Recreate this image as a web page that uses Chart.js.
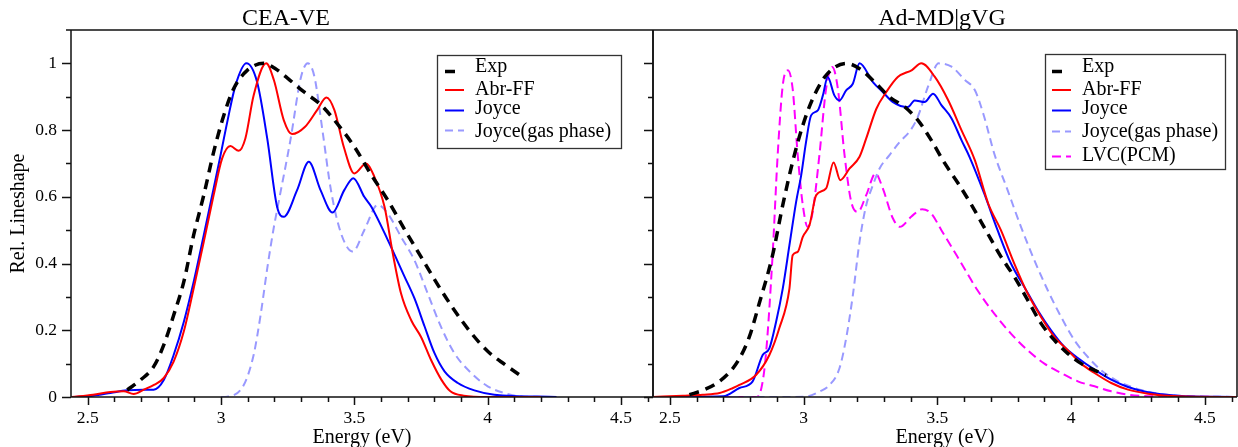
<!DOCTYPE html>
<html><head><meta charset="utf-8">
<script src="https://cdn.jsdelivr.net/npm/chart.js@4/dist/chart.umd.min.js"></script>
<style>
html,body{margin:0;padding:0;background:#fff;}
#wrap{position:relative;width:1238px;height:447px;overflow:hidden;}
canvas{position:absolute;left:0;top:0;}
</style></head><body>
<div id="wrap"><canvas id="c1" width="1238" height="447"></canvas><canvas id="c2" width="1238" height="447"></canvas></div>
<script>
// ---------- tick labels ----------
const xTickValues = [2.5, 3, 3.5, 4, 4.5];
const yTickValues = [0, 0.2, 0.4, 0.6, 0.8, 1];
const panelTitles = ["CEA-VE", "Ad-MD|gVG"];
const legendLeft = ["Exp", "Abr-FF", "Joyce", "Joyce(gas phase)"];
const legendRight = ["Exp", "Abr-FF", "Joyce", "Joyce(gas phase)", "LVC(PCM)"];

// ---------- left panel (CEA-VE) ----------
const L_expE = [2.648, 2.698, 2.747, 2.785, 2.822, 2.86, 2.897, 2.935, 2.972, 3.01, 3.047, 3.098, 3.16, 3.204, 3.25, 3.31, 3.375, 3.44, 3.50, 3.56, 3.625, 3.69, 3.75, 3.81, 3.875, 3.94, 4.00, 4.065, 4.127];
const L_expV = [0.021, 0.051, 0.091, 0.156, 0.245, 0.345, 0.485, 0.605, 0.734, 0.844, 0.924, 0.979, 1.0, 0.984, 0.955, 0.915, 0.875, 0.815, 0.75, 0.67, 0.59, 0.50, 0.42, 0.34, 0.26, 0.19, 0.137, 0.097, 0.062];

const L_abrE = [2.44, 2.52, 2.585, 2.635, 2.672, 2.71, 2.75, 2.785, 2.822, 2.86, 2.897, 2.935, 2.972, 3.004, 3.035, 3.066, 3.091, 3.122, 3.169, 3.198, 3.235, 3.266, 3.315, 3.36, 3.395, 3.425, 3.46, 3.50, 3.544, 3.575, 3.613, 3.644, 3.675, 3.713, 3.75, 3.788, 3.826, 3.86, 3.91, 4.0, 4.2];
const L_abrV = [0, 0.007, 0.015, 0.017, 0.009, 0.022, 0.037, 0.057, 0.106, 0.196, 0.325, 0.465, 0.605, 0.715, 0.752, 0.738, 0.775, 0.904, 1.0, 0.95, 0.83, 0.788, 0.81, 0.86, 0.898, 0.86, 0.75, 0.67, 0.70, 0.66, 0.57, 0.43, 0.31, 0.23, 0.18, 0.11, 0.052, 0.017, 0.004, 0, 0];

const L_joyE = [2.44, 2.52, 2.585, 2.647, 2.71, 2.747, 2.785, 2.822, 2.86, 2.897, 2.935, 2.972, 2.998, 3.023, 3.054, 3.095, 3.135, 3.173, 3.21, 3.235, 3.285, 3.329, 3.373, 3.418, 3.462, 3.496, 3.537, 3.563, 3.625, 3.688, 3.725, 3.763, 3.80, 3.838, 3.888, 3.95, 4.025, 4.258];
const L_joyV = [0, 0.004, 0.012, 0.02, 0.022, 0.022, 0.051, 0.126, 0.225, 0.345, 0.485, 0.625, 0.725, 0.824, 0.934, 1.0, 0.944, 0.775, 0.57, 0.54, 0.62, 0.705, 0.62, 0.553, 0.62, 0.656, 0.60, 0.571, 0.471, 0.361, 0.296, 0.212, 0.132, 0.077, 0.042, 0.02, 0.007, 0];

const L_gasE = [3.0, 3.023, 3.085, 3.122, 3.148, 3.173, 3.197, 3.216, 3.26, 3.30, 3.325, 3.35, 3.38, 3.412, 3.45, 3.494, 3.537, 3.588, 3.625, 3.675, 3.725, 3.775, 3.825, 3.876, 3.938, 4.0, 4.062, 4.125, 4.25];
const L_gasV = [0, 0.001, 0.036, 0.126, 0.245, 0.385, 0.505, 0.585, 0.77, 0.96, 1.0, 0.96, 0.80, 0.62, 0.49, 0.436, 0.50, 0.576, 0.55, 0.48, 0.41, 0.31, 0.21, 0.13, 0.072, 0.032, 0.012, 0.002, 0];

// ---------- right panel (Ad-MD|gVG) ----------
const R_expE = [2.573, 2.623, 2.673, 2.724, 2.76, 2.797, 2.834, 2.884, 2.922, 2.959, 2.997, 3.034, 3.084, 3.159, 3.209, 3.272, 3.321, 3.377, 3.427, 3.477, 3.528, 3.578, 3.628, 3.688, 3.738, 3.788, 3.838, 3.888, 3.938, 3.988, 4.038, 4.088, 4.13];
const R_expV = [0.007, 0.02, 0.04, 0.075, 0.115, 0.18, 0.28, 0.425, 0.575, 0.705, 0.814, 0.894, 0.964, 1.0, 0.984, 0.939, 0.899, 0.87, 0.83, 0.77, 0.70, 0.64, 0.575, 0.49, 0.42, 0.36, 0.29, 0.22, 0.17, 0.13, 0.10, 0.08, 0.065];

const R_abrE = [2.435, 2.548, 2.623, 2.686, 2.736, 2.76, 2.822, 2.872, 2.909, 2.947, 2.959, 2.978, 2.997, 3.022, 3.047, 3.084, 3.112, 3.137, 3.172, 3.209, 3.234, 3.272, 3.309, 3.352, 3.405, 3.44, 3.49, 3.54, 3.59, 3.64, 3.69, 3.7375, 3.7875, 3.8375, 3.8875, 3.9375, 3.9875, 4.0375, 4.0875, 4.15, 4.2125, 4.2875, 4.40, 4.62];
const R_abrV = [0, 0.004, 0.007, 0.012, 0.027, 0.036, 0.066, 0.126, 0.206, 0.325, 0.425, 0.435, 0.48, 0.515, 0.605, 0.625, 0.703, 0.65, 0.685, 0.72, 0.775, 0.864, 0.914, 0.959, 0.98, 1.0, 0.96, 0.89, 0.80, 0.71, 0.58, 0.50, 0.40, 0.31, 0.24, 0.18, 0.14, 0.10, 0.072, 0.042, 0.022, 0.01, 0.002, 0];

const R_joyE = [2.435, 2.70, 2.76, 2.809, 2.847, 2.872, 2.897, 2.922, 2.947, 2.972, 2.991, 3.009, 3.028, 3.053, 3.072, 3.09, 3.115, 3.134, 3.159, 3.184, 3.209, 3.259, 3.296, 3.334, 3.39, 3.415, 3.452, 3.484, 3.515, 3.553, 3.59, 3.62, 3.675, 3.725, 3.775, 3.825, 3.875, 3.925, 3.975, 4.025, 4.0875, 4.15, 4.2125, 4.2875, 4.40, 4.62];
const R_joyV = [0, 0.002, 0.027, 0.046, 0.126, 0.146, 0.225, 0.325, 0.455, 0.585, 0.665, 0.764, 0.844, 0.859, 0.904, 0.959, 0.904, 0.889, 0.919, 0.939, 1.0, 0.944, 0.914, 0.884, 0.869, 0.889, 0.884, 0.909, 0.875, 0.835, 0.77, 0.72, 0.61, 0.50, 0.40, 0.33, 0.26, 0.20, 0.15, 0.117, 0.082, 0.052, 0.03, 0.014, 0.004, 0];

const R_gasE = [2.435, 2.95, 3.009, 3.059, 3.097, 3.134, 3.159, 3.184, 3.209, 3.234, 3.259, 3.284, 3.321, 3.359, 3.40, 3.427, 3.465, 3.505, 3.553, 3.603, 3.64, 3.675, 3.7125, 3.7625, 3.8125, 3.8625, 3.9125, 3.9625, 4.0125, 4.0625, 4.1125, 4.175, 4.2375, 4.3125, 4.40, 4.62];
const R_gasV = [0, 0, 0.001, 0.016, 0.036, 0.086, 0.176, 0.305, 0.465, 0.575, 0.635, 0.685, 0.725, 0.764, 0.80, 0.84, 0.93, 1.0, 0.99, 0.95, 0.92, 0.84, 0.73, 0.62, 0.51, 0.41, 0.32, 0.24, 0.17, 0.12, 0.08, 0.047, 0.027, 0.012, 0.004, 0];

const R_lvcE = [2.435, 2.825, 2.843, 2.859, 2.884, 2.903, 2.922, 2.941, 2.959, 2.978, 2.997, 3.015, 3.034, 3.059, 3.084, 3.107, 3.128, 3.153, 3.178, 3.203, 3.234, 3.269, 3.296, 3.334, 3.36, 3.402, 3.443, 3.477, 3.515, 3.553, 3.59, 3.65, 3.7125, 3.775, 3.8375, 3.90, 3.9625, 4.025, 4.0875, 4.15, 4.2125, 4.3375, 4.62];
const R_lvcV = [0, 0, 0.03, 0.126, 0.425, 0.725, 0.934, 0.979, 0.924, 0.725, 0.575, 0.51, 0.555, 0.725, 0.924, 0.989, 0.924, 0.725, 0.585, 0.555, 0.605, 0.67, 0.625, 0.535, 0.51, 0.54, 0.563, 0.55, 0.50, 0.45, 0.40, 0.32, 0.25, 0.19, 0.14, 0.10, 0.072, 0.047, 0.032, 0.017, 0.007, 0.002, 0];

// ---------- rendering ----------
const SERIF = "'Liberation Serif', 'Times New Roman', serif";
Chart.defaults.font.family = SERIF;
Chart.defaults.color = '#000';
const X_MIN = 2.437, X_MAX = 4.62, Y_MIN = 0, Y_MAX = 1.1;

const STYLES = {
  "Exp": {color: '#000000', width: 3.5, dash: [10, 7]},
  "Abr-FF": {color: '#ff0000', width: 2, dash: []},
  "Joyce": {color: '#0000ff', width: 2, dash: []},
  "Joyce(gas phase)": {color: '#9999ff', width: 2, dash: [8, 5]},
  "LVC(PCM)": {color: '#ff00ff', width: 2, dash: [9, 5]}
};

function pairs(E, V) { return E.map((e, i) => ({x: e, y: V[i]})); }
function ds(label, E, V) {
  const s = STYLES[label];
  return {label, data: pairs(E, V), borderColor: s.color, borderWidth: s.width, borderDash: s.dash,
    pointRadius: 0, fill: false, cubicInterpolationMode: 'monotone', borderCapStyle: 'butt'};
}

const framePlugin = {
  id: 'frame',
  afterDraw(chart, args, o) {
    const ctx = chart.ctx, a = chart.chartArea, xs = chart.scales.x, ys = chart.scales.y;
    ctx.save();
    ctx.strokeStyle = '#111';
    ctx.lineWidth = 1.5;
    ctx.setLineDash([]);
    ctx.beginPath();
    ctx.moveTo(a.left - (o.topExtend || 0), a.top); ctx.lineTo(a.right, a.top);
    ctx.moveTo(a.left, a.top); ctx.lineTo(a.left, a.bottom); ctx.lineTo(a.right, a.bottom);
    ctx.moveTo(a.right, a.top); ctx.lineTo(a.right, a.bottom);
    for (let k = 25; k <= 46; k++) {
      const px = Math.round(xs.getPixelForValue(k / 10)) + 0.5;
      const len = (k % 5 === 0) ? 8 : 5;
      ctx.moveTo(px, a.bottom); ctx.lineTo(px, a.bottom + len);
    }
    for (let k = 0; k <= 10; k++) {
      const py = Math.round(ys.getPixelForValue(k / 10)) + 0.5;
      const len = (k % 2 === 0) ? 9 : 5;
      ctx.moveTo(a.left, py); ctx.lineTo(a.left - len, py);
    }
    ctx.stroke();
    ctx.fillStyle = '#000';
    ctx.font = '24px ' + SERIF;
    ctx.textAlign = 'center';
    ctx.textBaseline = 'alphabetic';
    ctx.fillText(o.title, o.titleX, 25);
    const L = o.legend;
    ctx.lineWidth = 1.3;
    ctx.strokeStyle = '#333';
    ctx.strokeRect(L.x1 + 0.5, L.y1 + 0.5, L.x2 - L.x1, L.y2 - L.y1);
    ctx.font = '20px ' + SERIF;
    ctx.textAlign = 'left';
    ctx.textBaseline = 'middle';
    L.items.forEach((name, i) => {
      const s = STYLES[name];
      const ly = L.lineY[i];
      ctx.beginPath();
      ctx.strokeStyle = s.color;
      ctx.lineWidth = s.width;
      ctx.setLineDash(s.dash);
      const xEnd = name === 'Exp' ? L.lx + 13 : L.lx + 19;
      ctx.moveTo(L.lx, ly); ctx.lineTo(xEnd, ly);
      ctx.stroke();
      ctx.setLineDash([]);
      ctx.fillStyle = '#000';
      ctx.fillText(name, L.tx, L.textY[i]);
    });
    ctx.restore();
  }
};

function xScale() {
  return {
    type: 'linear', min: X_MIN, max: X_MAX,
    grid: {display: false, drawTicks: false}, border: {display: false},
    afterBuildTicks: (s) => { s.ticks = xTickValues.map(v => ({value: v})); },
    afterFit: (s) => { s.height = 50; },
    ticks: {padding: 11, font: {size: 17.5, family: SERIF}, color: '#000',
      callback: (v) => String(v), maxRotation: 0, autoSkip: false},
    title: {display: true, text: 'Energy (eV)', font: {size: 20, family: SERIF}, color: '#000', padding: {top: 0, bottom: -3}}
  };
}

new Chart(document.getElementById('c1'), {
  type: 'line',
  data: {datasets: [
    ds('Exp', L_expE, L_expV),
    ds('Abr-FF', L_abrE, L_abrV),
    ds('Joyce', L_joyE, L_joyV),
    ds('Joyce(gas phase)', L_gasE, L_gasV)
  ]},
  options: {
    responsive: false, animation: false, devicePixelRatio: 1,
    layout: {padding: {left: 0, right: 585, top: 30, bottom: 0}},
    plugins: {legend: {display: false}, tooltip: {enabled: false},
      frame: {title: panelTitles[0], titleX: 286, topExtend: 5,
        legend: {x1: 437, y1: 55, x2: 621, y2: 148, lx: 445, tx: 475,
          items: legendLeft, lineY: [71.5, 90, 110.5, 130.5], textY: [67, 90, 109, 132]}}},
    scales: {
      x: xScale(),
      y: {type: 'linear', min: Y_MIN, max: Y_MAX,
        grid: {display: false, drawTicks: false}, border: {display: false},
        afterBuildTicks: (s) => { s.ticks = yTickValues.map(v => ({value: v})); },
        afterFit: (s) => { s.width = 71; },
        ticks: {padding: 14, font: {size: 17.5, family: SERIF}, color: '#000', callback: (v) => String(v)},
        title: {display: true, text: 'Rel. Lineshape', font: {size: 20, family: SERIF}, color: '#000', padding: {top: 7, bottom: 0}}
      }
    }
  },
  plugins: [framePlugin]
});

new Chart(document.getElementById('c2'), {
  type: 'line',
  data: {datasets: [
    ds('Exp', R_expE, R_expV),
    ds('Abr-FF', R_abrE, R_abrV),
    ds('Joyce', R_joyE, R_joyV),
    ds('Joyce(gas phase)', R_gasE, R_gasV),
    ds('LVC(PCM)', R_lvcE, R_lvcV)
  ]},
  options: {
    responsive: false, animation: false, devicePixelRatio: 1,
    layout: {padding: {left: 653, right: 1, top: 30, bottom: 0}},
    plugins: {legend: {display: false}, tooltip: {enabled: false},
      frame: {title: panelTitles[1], titleX: 942, topExtend: 0,
        legend: {x1: 1045, y1: 54, x2: 1225, y2: 169, lx: 1052, tx: 1082,
          items: legendRight, lineY: [71.5, 90, 110.5, 131.5, 156.5], textY: [67, 90, 109, 132, 156]}}},
    scales: {
      x: xScale(),
      y: {type: 'linear', min: Y_MIN, max: Y_MAX, display: false}
    }
  },
  plugins: [framePlugin]
});
</script>
</body></html>
